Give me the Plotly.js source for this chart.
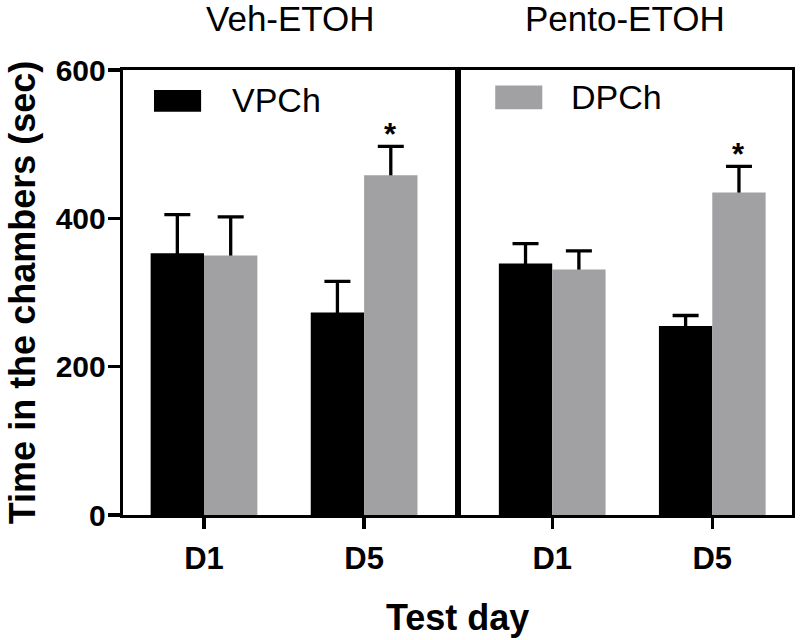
<!DOCTYPE html>
<html>
<head>
<meta charset="utf-8">
<script src="https://cdn.plot.ly/plotly-3.0.1.min.js"></script>
<style>html,body{margin:0;padding:0;background:#fff;}#chart{width:800px;height:640px;}</style>
</head>
<body>
<div id="chart"></div>
<script>
// ---- data ----
const days = ["D1", "D5"];
const groupNames = ["Veh-ETOH", "Pento-ETOH"];
const seriesNames = ["VPCh", "DPCh"];
const vehVPCh = [353, 273];
const vehVPChSem = [52, 42];
const vehDPCh = [350, 458];
const vehDPChSem = [52, 39];
const pentoVPCh = [339, 255];
const pentoVPChSem = [27, 14];
const pentoDPCh = [331, 435];
const pentoDPChSem = [25, 35];
const vehStars = ["", "*"];      // significance marks on DPCh bars
const pentoStars = ["", "*"];
const yTicks = [0, 200, 400, 600];
const yTitle = "Time in the chambers (sec)";
const xTitle = "Test day";

// ---- styles ----
const colors = ["#000000", "#a1a1a4"];
const FONT = "Liberation Sans, Arial, sans-serif";
const bargap = 1 / 3;

// Error bars (upper only): carried by a transparent bar in the same slot,
// drawn underneath the visible bar so only the upper whisker shows.
function errTrace(y, sem, idx, xa, ya) {
  return {
    type: "bar", x: days, y: y, name: seriesNames[idx] + " SEM",
    xaxis: xa, yaxis: ya, offsetgroup: seriesNames[idx],
    marker: {color: "rgba(0,0,0,0)", line: {width: 0}},
    error_y: {type: "data", symmetric: false, array: sem, arrayminus: y,
              color: "#000", thickness: 3.3, width: 13},
    showlegend: false, hoverinfo: "skip"
  };
}
function barTrace(y, idx, xa, ya) {
  return {
    type: "bar", x: days, y: y, name: seriesNames[idx],
    xaxis: xa, yaxis: ya, offsetgroup: seriesNames[idx],
    marker: {color: colors[idx], line: {width: 0}},
    showlegend: false, hoverinfo: "x+y"
  };
}

const traces = [
  errTrace(vehVPCh, vehVPChSem, 0, "x", "y"),
  errTrace(vehDPCh, vehDPChSem, 1, "x", "y"),
  errTrace(pentoVPCh, pentoVPChSem, 0, "x2", "y2"),
  errTrace(pentoDPCh, pentoDPChSem, 1, "x2", "y2"),
  barTrace(vehVPCh, 0, "x", "y"),
  barTrace(vehDPCh, 1, "x", "y"),
  barTrace(pentoVPCh, 0, "x2", "y2"),
  barTrace(pentoDPCh, 1, "x2", "y2")
];

const annotations = [];
// significance stars above DPCh bars (offset = half a bar width within group)
const dpOffset = (1 - bargap) / 4;
function addStars(stars, vals, sems, xa, ya) {
  stars.forEach((s, i) => {
    if (!s) return;
    annotations.push({
      xref: xa, yref: ya, x: i + dpOffset, y: vals[i] + sems[i], text: s,
      showarrow: false, yanchor: "bottom", xanchor: "center", yshift: -8,
      font: {family: FONT, size: 31, color: "#000", weight: "bold"}
    });
  });
}
addStars(vehStars, vehDPCh, vehDPChSem, "x", "y");
addStars(pentoStars, pentoDPCh, pentoDPChSem, "x2", "y2");

// panel titles
annotations.push({xref: "x domain", yref: "y domain", x: 0.5, y: 1, yanchor: "bottom", yshift: 30,
  text: groupNames[0], showarrow: false, font: {family: FONT, size: 35, color: "#000"}});
annotations.push({xref: "x2 domain", yref: "y2 domain", x: 0.5, y: 1, yanchor: "bottom", yshift: 30,
  text: groupNames[1], showarrow: false, font: {family: FONT, size: 35, color: "#000"}});

// x-axis title shared by both panels
annotations.push({xref: "paper", yref: "paper", x: 0.5, y: 0, yanchor: "middle", yshift: -102,
  text: xTitle, showarrow: false, font: {family: FONT, size: 36, color: "#000", weight: "bold"}});

// legend entries (large swatches as in the reference)
annotations.push({xref: "x domain", yref: "y domain", x: 0.319, y: 0.933, xanchor: "left", yanchor: "middle",
  text: seriesNames[0], showarrow: false, font: {family: FONT, size: 34, color: "#000"}});
annotations.push({xref: "x2 domain", yref: "y2 domain", x: 0.333, y: 0.939, xanchor: "left", yanchor: "middle",
  text: seriesNames[1], showarrow: false, font: {family: FONT, size: 34, color: "#000"}});

const shapes = [
  {type: "rect", xref: "x domain", yref: "y domain", x0: 0.0925, x1: 0.233, y0: 0.906, y1: 0.955,
   fillcolor: colors[0], line: {width: 0}},
  {type: "rect", xref: "x2 domain", yref: "y2 domain", x0: 0.111, x1: 0.252, y0: 0.912, y1: 0.965,
   fillcolor: colors[1], line: {width: 0}}
];

const xCommon = {
  type: "category", showline: true, mirror: true, linewidth: 3.3, linecolor: "#000",
  ticks: "outside", ticklen: 11, tickwidth: 3.3, tickcolor: "#000", ticklabelstandoff: 2,
  tickfont: {family: FONT, size: 31, color: "#000", weight: "bold"},
  showgrid: false, zeroline: false, fixedrange: true
};

const layout = {
  width: 800, height: 640,
  margin: {l: 123, r: 8, t: 70, b: 125},
  paper_bgcolor: "#fff", plot_bgcolor: "#fff",
  barmode: "group", bargap: bargap, bargroupgap: 0,
  showlegend: false,
  xaxis: Object.assign({}, xCommon, {domain: [0, 0.501], range: [-0.506, 1.5875], anchor: "y"}),
  xaxis2: Object.assign({}, xCommon, {domain: [0.501, 1], range: [-0.5875, 1.498], anchor: "y2"}),
  yaxis: {
    range: [0, 600], tickvals: yTicks, ticktext: yTicks.map(String),
    showline: true, mirror: true, linewidth: 3.3, linecolor: "#000",
    ticks: "outside", ticklen: 12, tickwidth: 3.3, tickcolor: "#000", ticklabelstandoff: -4,
    tickfont: {family: FONT, size: 30, color: "#000", weight: "bold"},
    showgrid: false, zeroline: false, fixedrange: true,
    title: {text: yTitle, standoff: 10, font: {family: FONT, size: 36, color: "#000", weight: "bold"}}
  },
  yaxis2: {
    range: [0, 600], anchor: "x2", matches: "y",
    showline: true, mirror: true, linewidth: 3.3, linecolor: "#000",
    ticks: "", showticklabels: false, showgrid: false, zeroline: false, fixedrange: true
  },
  annotations: annotations,
  shapes: shapes
};

Plotly.newPlot("chart", traces, layout, {displayModeBar: false, staticPlot: true});
</script>
</body>
</html>
